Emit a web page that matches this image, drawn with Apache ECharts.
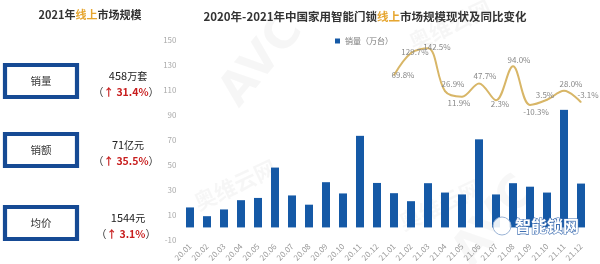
<!DOCTYPE html>
<html>
<head>
<meta charset="utf-8">
<script src="https://cdn.jsdelivr.net/npm/echarts@6/dist/echarts.min.js"></script>
<style>
  html, body { margin: 0; padding: 0; background: #fff; }
  #chart { width: 600px; height: 264px; }
</style>
</head>
<body>
<div id="chart"></div>
<script>
// Monthly categories, 2020.01 – 2021.12
const months = [
  '20.01','20.02','20.03','20.04','20.05','20.06','20.07','20.08','20.09','20.10','20.11','20.12',
  '21.01','21.02','21.03','21.04','21.05','21.06','21.07','21.08','21.09','21.10','21.11','21.12'
];
// Online unit sales, 万台
const sales2020 = [16.0, 9.0, 14.4, 21.8, 23.6, 47.9, 25.6, 18.2, 36.2, 27.2, 73.3, 35.6];
const sales2021 = [27.4, 21.0, 35.4, 27.9, 26.4, 70.5, 26.4, 35.4, 32.6, 27.9, 94.1, 35.1];
// Year-on-year change for 2021, %
const yoy2021 = [69.8, 129.7, 142.5, 26.9, 11.9, 47.7, 2.3, 94.0, -10.3, 3.5, 28.0, -3.1];
// 2021 summary panel
const summaryNames = ['销量', '销额', '均价'];
const summaryValues = ['458', '71', '1544'];
const summaryUnits = ['万套', '亿元', '元'];
const summaryGrowth = ['31.4%', '35.5%', '3.1%'];

// label nudges for the growth line, [dx, dy] in px
const yoyLabelShift = [[9,0],[4,-1],[9,-1],[8,-7],[-3,6],[6,-7],[4,4],[6,-6],[6,7],[-2,-5],[7,-7],[7,-7]];

const FONT = '"Noto Sans CJK SC", "Noto Sans", sans-serif';
const BLUE = '#1559a6';
const BOX_BLUE = '#164a94';
const GOLD = '#d8b667';
const HILITE = '#e6a630';
const RED = '#c81e1e';

const salesAll = sales2020.concat(sales2021);
const yoyAll = months.map((m, i) => (i < 12 ? null : yoy2021[i - 12]));

const lineData = yoyAll.map((v, i) => {
  if (v === null) return null;
  const s = yoyLabelShift[i - 12];
  return { value: v, label: { offset: s } };
});

// left summary panel
const panelGraphics = [];
panelGraphics.push({
  type: 'text', x: 90, y: 15,
  style: {
    text: '{a|2021年}{b|线上}{a|市场规模}',
    align: 'center', verticalAlign: 'middle',
    rich: {
      a: { fontFamily: FONT, fontSize: 11, fontWeight: 'bold', fill: '#333' },
      b: { fontFamily: FONT, fontSize: 11, fontWeight: 'bold', fill: HILITE }
    }
  }
});
const boxTops = [63, 132, 205];
summaryNames.forEach((name, i) => {
  const top = boxTops[i];
  panelGraphics.push({
    type: 'rect',
    shape: { x: 5, y: top + 2, width: 72, height: 32 },
    style: { fill: '#fff', stroke: BOX_BLUE, lineWidth: 4.2 }
  });
  panelGraphics.push({
    type: 'text', x: 41, y: top + 18,
    style: { text: name, fontFamily: FONT, fontSize: 10.5, fill: '#333', align: 'center', verticalAlign: 'middle' }
  });
  panelGraphics.push({
    type: 'text', x: 128, y: top + 13,
    style: {
      text: '{n|' + summaryValues[i] + '}{u|' + summaryUnits[i] + '}',
      align: 'center', verticalAlign: 'middle',
      rich: {
        n: { fontFamily: FONT, fontSize: 11, fill: '#222' },
        u: { fontFamily: FONT, fontSize: 10, fill: '#222' }
      }
    }
  });
  panelGraphics.push({
    type: 'text', x: 126, y: top + 29,
    style: {
      text: '{p|（}{r|↑ ' + summaryGrowth[i] + '}{p|）}',
      align: 'center', verticalAlign: 'middle',
      rich: {
        p: { fontFamily: FONT, fontSize: 10.5, fill: '#333' },
        r: { fontFamily: FONT, fontSize: 10.5, fontWeight: 'bold', fill: RED }
      }
    }
  });
});

// faint brand marks
const markGraphics = [
  { type: 'text', x: 262, y: 62, rotation: Math.PI * 0.28,
    style: { text: 'AVC', fontFamily: 'DejaVu Sans', fontSize: 46, fontWeight: 'bold', fill: 'rgba(0,0,0,0.035)', align: 'center', verticalAlign: 'middle' } },
  { type: 'text', x: 495, y: 222, rotation: Math.PI * 0.28,
    style: { text: 'AVC', fontFamily: 'DejaVu Sans', fontSize: 46, fontWeight: 'bold', fill: 'rgba(0,0,0,0.03)', align: 'center', verticalAlign: 'middle' } },
  { type: 'text', x: 235, y: 185, rotation: Math.PI * 0.14,
    style: { text: '奥维云网', fontFamily: FONT, fontSize: 22, fontWeight: 'bold', fill: 'rgba(0,0,0,0.035)', align: 'center', verticalAlign: 'middle' } },
  { type: 'text', x: 450, y: 25, rotation: Math.PI * 0.14,
    style: { text: '奥维云网', fontFamily: FONT, fontSize: 22, fontWeight: 'bold', fill: 'rgba(0,0,0,0.035)', align: 'center', verticalAlign: 'middle' } },
  { type: 'text', x: 440, y: 205, rotation: Math.PI * 0.14,
    style: { text: '奥维云网', fontFamily: FONT, fontSize: 22, fontWeight: 'bold', fill: 'rgba(0,0,0,0.03)', align: 'center', verticalAlign: 'middle' } },
  { type: 'circle', z: 10, shape: { cx: 502, cy: 226, r: 9 },
    style: { fill: 'rgba(255,255,255,0.9)', stroke: '#9bb4d6', lineWidth: 1 } },
  { type: 'text', z: 10, x: 547, y: 226,
    style: { text: '智能锁网', fontFamily: FONT, fontSize: 16, fontWeight: 'bold', fill: '#fff', stroke: '#3f6fb2', lineWidth: 1.2, align: 'center', verticalAlign: 'middle' } }
];

const chart = echarts.init(document.getElementById('chart'), null, { renderer: 'canvas' });
chart.setOption({
  animation: false,
  backgroundColor: '#fff',
  textStyle: { fontFamily: FONT },
  title: {
    text: '{a|2020年-2021年中国家用智能门锁}{b|线上}{a|市场规模现状及同比变化}',
    left: 365, top: 17, textAlign: 'center', textVerticalAlign: 'middle',
    padding: 0,
    textStyle: {
      rich: {
        a: { fontFamily: FONT, fontSize: 11.5, fontWeight: 'bold', color: '#333' },
        b: { fontFamily: FONT, fontSize: 11.5, fontWeight: 'bold', color: HILITE }
      }
    }
  },
  legend: {
    data: ['销量（万台）'],
    left: 330, top: 32,
    itemWidth: 5, itemHeight: 5, itemGap: 4,
    icon: 'rect',
    textStyle: { fontSize: 8, color: '#777', fontFamily: FONT }
  },
  grid: { left: 181.5, right: 10.5, top: 40, bottom: 16, containLabel: false },
  xAxis: {
    type: 'category',
    data: months,
    axisLine: { show: true, onZero: true, onZeroAxisIndex: 0, lineStyle: { color: 'rgba(0,0,0,0)' } },
    axisTick: { show: false },
    axisLabel: { rotate: 45, fontSize: 8, color: '#999', margin: 5, interval: 0 }
  },
  yAxis: [
    {
      type: 'value', min: -10, max: 150, interval: 20,
      splitLine: { show: false },
      axisLine: { show: false }, axisTick: { show: false },
      axisLabel: { fontSize: 8, color: '#aaa', margin: 5 }
    },
    {
      type: 'value', min: -375, max: 165, show: false,
      splitLine: { show: false }
    }
  ],
  series: [
    {
      name: '销量（万台）',
      type: 'bar',
      data: salesAll,
      barWidth: 8,
      itemStyle: { color: BLUE },
      z: 2
    },
    {
      name: '同比',
      type: 'line',
      yAxisIndex: 1,
      data: lineData,
      smooth: 0.35,
      symbol: 'circle',
      symbolSize: 1,
      showSymbol: true,
      connectNulls: false,
      lineStyle: { color: GOLD, width: 2 },
      itemStyle: { color: GOLD },
      label: {
        show: true, position: 'inside',
        fontSize: 8, color: '#888', fontFamily: FONT,
        formatter: p => p.value.toFixed(1) + '%'
      },
      z: 3
    }
  ],
  graphic: panelGraphics.concat(markGraphics)
});
</script>
</body>
</html>
